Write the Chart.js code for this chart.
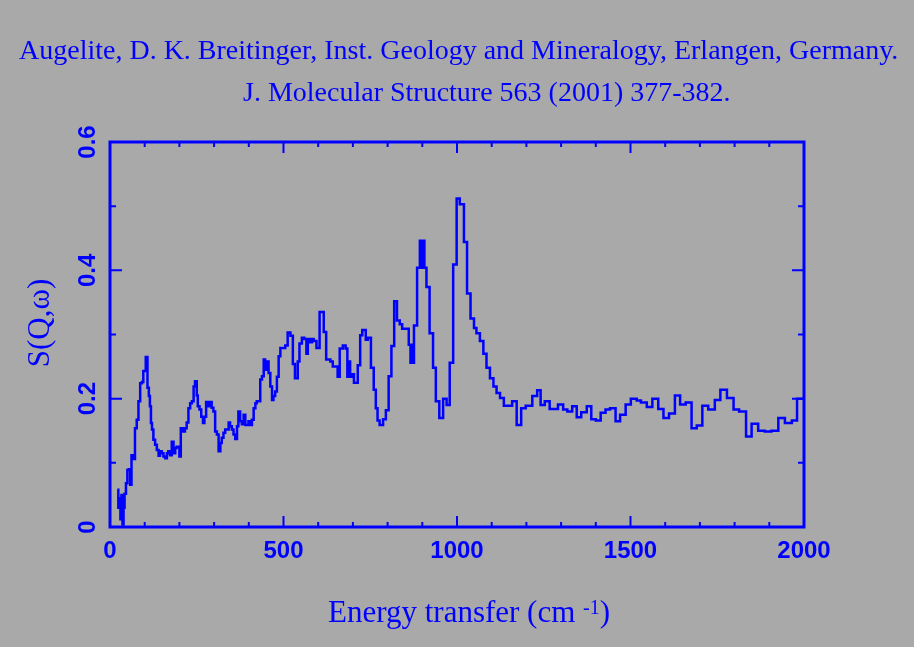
<!DOCTYPE html>
<html>
<head>
<meta charset="utf-8">
<script src="https://cdn.jsdelivr.net/npm/chart.js@4.4.0/dist/chart.umd.min.js"></script>
<style>
html, body { margin: 0; padding: 0; background: #a9a9a9; }
canvas { display: block; }
</style>
</head>
<body>
<canvas id="spectrum" width="914" height="647"></canvas>
<script>
// bin start (cm-1) and S(Q,w)
var energy = [21, 24, 27, 30, 33, 36, 39, 42, 46, 50,
    54, 58, 62, 67, 72, 77, 82, 87, 92, 96,
    103, 108, 112, 115, 118, 121, 125, 130, 135, 140,
    144, 149, 154, 159, 164, 168, 173, 178, 183, 188,
    192, 200, 204, 210, 216, 221, 226, 231, 236, 241,
    245, 250, 253, 258, 263, 268, 272, 277, 284, 289,
    293, 298, 303, 308, 313, 318, 322, 327, 332, 337,
    342, 346, 351, 356, 361, 366, 370, 375, 380, 385,
    390, 395, 399, 404, 409, 414, 419, 423, 428, 433,
    438, 443, 447, 452, 457, 462, 467, 471, 476, 481,
    486, 491, 505, 512, 520, 527, 533, 541, 546, 553,
    560, 566, 570, 575, 582, 587, 595, 604, 616, 623,
    635, 642, 656, 662, 671, 679, 684, 688, 692, 698,
    703, 714, 721, 727, 737, 743, 752, 760, 766, 771,
    777, 787, 795, 803, 811, 819, 827, 835, 842, 861,
    866, 870, 873, 876, 885, 893, 898, 901, 906, 912,
    921, 931, 939, 949, 960, 970, 979, 989, 999, 1008,
    1020, 1029, 1039, 1049, 1056, 1066, 1076, 1085, 1095, 1105,
    1114, 1124, 1135, 1159, 1172, 1185, 1198, 1217, 1231, 1241,
    1253, 1267, 1291, 1306, 1318, 1332, 1345, 1358, 1374, 1387,
    1400, 1414, 1428, 1441, 1457, 1470, 1486, 1501, 1518, 1530,
    1547, 1563, 1580, 1595, 1611, 1628, 1643, 1659, 1676, 1691,
    1707, 1724, 1743, 1759, 1778, 1797, 1813, 1833, 1849, 1868,
    1887, 1906, 1926, 1945, 1965, 1980];
var intensity = [0.058, 0.030, 0.045, 0.012, 0.050, 0.004, 0.030, 0.052, 0.068, 0.089,
    0.090, 0.066, 0.112, 0.106, 0.154, 0.167, 0.196, 0.224, 0.226, 0.243,
    0.265, 0.217, 0.204, 0.188, 0.162, 0.152, 0.136, 0.128, 0.120, 0.111,
    0.118, 0.115, 0.110, 0.107, 0.115, 0.118, 0.112, 0.133, 0.115, 0.123,
    0.125, 0.110, 0.154, 0.149, 0.154, 0.163, 0.185, 0.193, 0.196, 0.219,
    0.227, 0.205, 0.188, 0.183, 0.172, 0.162, 0.172, 0.195, 0.188, 0.195,
    0.186, 0.180, 0.149, 0.144, 0.118, 0.131, 0.139, 0.147, 0.152, 0.152,
    0.163, 0.157, 0.152, 0.144, 0.137, 0.157, 0.180, 0.165, 0.160, 0.175,
    0.159, 0.159, 0.165, 0.159, 0.167, 0.185, 0.193, 0.196, 0.196, 0.230,
    0.235, 0.261, 0.245, 0.258, 0.240, 0.219, 0.198, 0.204, 0.211, 0.234,
    0.266, 0.279, 0.283, 0.303, 0.298, 0.254, 0.232, 0.258, 0.286, 0.295,
    0.293, 0.270, 0.293, 0.288, 0.293, 0.290, 0.279, 0.335, 0.304, 0.261,
    0.258, 0.250, 0.234, 0.278, 0.283, 0.278, 0.234, 0.258, 0.234, 0.238,
    0.225, 0.252, 0.299, 0.307, 0.292, 0.295, 0.248, 0.214, 0.185, 0.166,
    0.159, 0.168, 0.182, 0.235, 0.282, 0.352, 0.322, 0.316, 0.309, 0.284,
    0.256, 0.284, 0.256, 0.314, 0.404, 0.446, 0.404, 0.446, 0.404, 0.374,
    0.302, 0.248, 0.196, 0.170, 0.200, 0.190, 0.256, 0.409, 0.512, 0.503,
    0.444, 0.364, 0.325, 0.310, 0.302, 0.290, 0.270, 0.248, 0.232, 0.219,
    0.209, 0.201, 0.189, 0.196, 0.159, 0.185, 0.189, 0.204, 0.213, 0.190,
    0.196, 0.184, 0.191, 0.183, 0.180, 0.188, 0.171, 0.179, 0.188, 0.168,
    0.166, 0.178, 0.183, 0.185, 0.165, 0.175, 0.191, 0.200, 0.197, 0.194,
    0.187, 0.200, 0.184, 0.170, 0.177, 0.205, 0.191, 0.194, 0.154, 0.158,
    0.189, 0.183, 0.198, 0.214, 0.201, 0.183, 0.180, 0.141, 0.161, 0.150,
    0.149, 0.150, 0.170, 0.162, 0.166, 0.200];
var xTicks = [0, 500, 1000, 1500, 2000];
var yTicks = ['0', '0.2', '0.4', '0.6'];
var titleLines = ['Augelite, D. K. Breitinger, Inst. Geology and Mineralogy, Erlangen, Germany.',
    'J. Molecular Structure 563 (2001) 377-382.'];
var xTitle = ['Energy transfer (cm ', '-1', ')'];
var yTitle = 'S(Q,\u03c9)';
var BLUE = '#0000ff';
var XMAX = 2000;

var points = [];
for (let i = 0; i < energy.length; i++) {
    points.push({ x: energy[i], y: intensity[i] });
}
// close the last bin at the end of the axis
points.push({ x: XMAX, y: intensity[intensity.length - 1] });

// frame with inward ticks on all four sides, labels and titles
var decorations = {
    id: 'decorations',
    afterDatasetsDraw: function(chart) {
        var ctx = chart.ctx;
        var a = chart.chartArea;
        var xs = chart.scales.x;
        var ys = chart.scales.y;
        ctx.save();
        ctx.strokeStyle = BLUE;
        ctx.fillStyle = BLUE;
        ctx.lineWidth = 3;
        ctx.strokeRect(a.left, a.top, a.right - a.left, a.bottom - a.top);

        ctx.lineWidth = 2;
        ctx.beginPath();
        for (let v = 100; v < XMAX; v += 100) {
            let px = xs.getPixelForValue(v);
            let len = v % 500 === 0 ? 11 : 5;
            ctx.moveTo(px, a.bottom);
            ctx.lineTo(px, a.bottom - len);
            ctx.moveTo(px, a.top);
            ctx.lineTo(px, a.top + len);
        }
        for (let k = 1; k < 6; k++) {
            let py = ys.getPixelForValue(k / 10);
            let len = k % 2 === 0 ? 12 : 6;
            ctx.moveTo(a.left, py);
            ctx.lineTo(a.left + len, py);
            ctx.moveTo(a.right, py);
            ctx.lineTo(a.right - len, py);
        }
        ctx.stroke();

        ctx.font = 'bold 24px "Liberation Sans", Arial, sans-serif';
        ctx.textAlign = 'center';
        ctx.textBaseline = 'alphabetic';
        xTicks.forEach(function(v) {
            ctx.fillText(String(v), xs.getPixelForValue(v), a.bottom + 31);
        });
        yTicks.forEach(function(t) {
            ctx.save();
            ctx.translate(a.left - 15, ys.getPixelForValue(parseFloat(t)));
            ctx.rotate(-Math.PI / 2);
            ctx.fillText(t, 0, 0);
            ctx.restore();
        });

        // axis titles
        ctx.font = '31px "Liberation Serif", "Times New Roman", serif';
        ctx.save();
        ctx.translate(49, 323);
        ctx.rotate(-Math.PI / 2);
        ctx.fillText(yTitle, 0, 0);
        ctx.restore();

        ctx.textAlign = 'left';
        var tx = 328;
        ctx.font = '31px "Liberation Serif", "Times New Roman", serif';
        ctx.fillText(xTitle[0], tx, 622);
        tx += ctx.measureText(xTitle[0]).width;
        ctx.font = '20px "Liberation Serif", "Times New Roman", serif';
        ctx.fillText(xTitle[1], tx, 614);
        tx += ctx.measureText(xTitle[1]).width;
        ctx.font = '31px "Liberation Serif", "Times New Roman", serif';
        ctx.fillText(xTitle[2], tx, 622);

        // header
        ctx.font = '28px "Liberation Serif", "Times New Roman", serif';
        ctx.fillText(titleLines[0], 19, 59);
        ctx.fillText(titleLines[1], 243, 101);
        ctx.restore();
    }
};

var chart = new Chart(document.getElementById('spectrum'), {
    type: 'line',
    data: {
        datasets: [{
            data: points,
            borderColor: BLUE,
            borderWidth: 2.5,
            stepped: true,
            pointRadius: 0,
            fill: false
        }]
    },
    options: {
        responsive: false,
        animation: false,
        layout: {
            padding: { left: 110, top: 142, right: 110, bottom: 120 }
        },
        plugins: {
            legend: { display: false },
            tooltip: { enabled: false }
        },
        scales: {
            x: { type: 'linear', display: false, min: 0, max: XMAX },
            y: { display: false, min: 0, max: 0.6 }
        }
    },
    plugins: [decorations]
});
</script>
</body>
</html>
